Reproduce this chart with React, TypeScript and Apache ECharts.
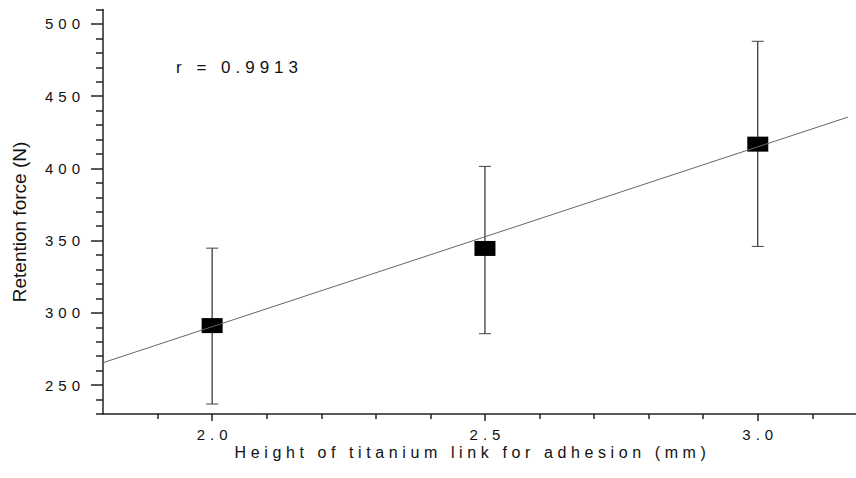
import React, { useEffect, useRef } from "react";
import * as echarts from "echarts";

const xValues = [2.0, 2.5, 3.0];
const meanForce = [291.2, 344.6, 416.8];
const errLow = [236.9, 285.6, 346.0];
const errHigh = [344.8, 401.4, 488.0];
const fitX = [1.8, 3.165];
const fitY = [265.5, 435.5];
const xMajorTicks = [2.0, 2.5, 3.0];
const xMinorTicks = [1.9, 2.1, 2.2, 2.3, 2.4, 2.6, 2.7, 2.8, 2.9, 3.1];
const yMajorTicks = [250, 300, 350, 400, 450, 500];
const yMinorTicks = [230, 240, 260, 270, 280, 290, 310, 320, 330, 340, 360, 370, 380, 390, 410, 420, 430, 440, 460, 470, 480, 490, 510];
const rText = "r = 0.9913";
const xTitle = "Height of titanium link for adhesion (mm)";
const yTitle = "Retention force (N)";

const SPACED = "Liberation Sans";
const TITLE = "Liberation Sans, Helvetica";
const PLAIN = "Arial, Liberation Sans";

export default function App() {
  const ref = useRef<HTMLDivElement>(null);
  useEffect(() => {
    document.body.style.margin = "0";
    const chart = echarts.init(ref.current!, null, { renderer: "svg" });
    const axisColor = "#222";
    chart.setOption({
      animation: false,
      backgroundColor: "#fff",
      grid: { left: 103, right: 0, top: 9.5, bottom: 64, containLabel: false },
      xAxis: [
        {
          type: "value", min: 1.8, max: 3.18, position: "bottom",
          axisLine: { show: true, onZero: false, lineStyle: { color: axisColor, width: 1.5 } },
          axisTick: { show: true, customValues: xMajorTicks, length: 7, lineStyle: { color: axisColor, width: 1.5 } },
          axisLabel: {
            show: true, customValues: xMajorTicks, formatter: (v: number) => v.toFixed(1),
            fontSize: 15, fontFamily: SPACED, color: "#111", margin: 13, padding: [0, 0, 0, 5],
          },
          splitLine: { show: false },
        },
        {
          type: "value", min: 1.8, max: 3.18, position: "bottom",
          axisLine: { show: false, onZero: false },
          axisTick: { show: true, customValues: xMinorTicks, length: 5, lineStyle: { color: axisColor, width: 1.5 } },
          axisLabel: { show: false },
          splitLine: { show: false },
        },
      ],
      yAxis: [
        {
          type: "value", min: 230, max: 510, position: "left",
          axisLine: { show: true, onZero: false, lineStyle: { color: axisColor, width: 1.5 } },
          axisTick: { show: true, customValues: yMajorTicks, length: 12, lineStyle: { color: axisColor, width: 1.5 } },
          axisLabel: {
            show: true, customValues: yMajorTicks, fontSize: 15, fontFamily: SPACED, color: "#111", margin: 18,
          },
          splitLine: { show: false },
        },
        {
          type: "value", min: 230, max: 510, position: "left",
          axisLine: { show: false, onZero: false },
          axisTick: { show: true, customValues: yMinorTicks, length: 7, lineStyle: { color: axisColor, width: 1.5 } },
          axisLabel: { show: false },
          splitLine: { show: false },
        },
      ],
      graphic: [
        {
          type: "text", left: 176, top: 59, z: 10,
          style: { text: rText, fontSize: 17, fontFamily: SPACED, fill: "#111" },
        },
        {
          type: "text", x: 472.5, y: 452, z: 10,
          style: { text: xTitle, fontSize: 16, fontFamily: TITLE, fill: "#111", textAlign: "center", textVerticalAlign: "middle" },
        },
        {
          type: "text", x: 19.5, y: 222, rotation: Math.PI / 2, z: 10,
          style: { text: yTitle, fontSize: 19, fontFamily: PLAIN, fill: "#111", textAlign: "center", textVerticalAlign: "middle" },
        },
      ],
      series: [
        {
          type: "scatter", xAxisIndex: 0, yAxisIndex: 0, z: 2,
          symbol: "rect", symbolSize: [21, 15],
          itemStyle: { color: "#000", opacity: 1 },
          data: xValues.map((x, i) => [x, meanForce[i]]),
        },
        {
          type: "custom", xAxisIndex: 0, yAxisIndex: 0, z: 3,
          data: xValues.map((x, i) => [x, errLow[i], errHigh[i]]),
          encode: { x: 0, y: [1, 2] },
          renderItem: (params: any, api: any) => {
            const x = api.value(0);
            const lo = api.coord([x, api.value(1)]);
            const hi = api.coord([x, api.value(2)]);
            return {
              type: "group",
              children: [
                { type: "line", shape: { x1: lo[0], y1: lo[1], x2: hi[0], y2: hi[1] }, style: { stroke: "#000", lineWidth: 1 } },
                { type: "line", shape: { x1: lo[0] - 6, y1: lo[1], x2: lo[0] + 6, y2: lo[1] }, style: { stroke: "#444", lineWidth: 1 } },
                { type: "line", shape: { x1: hi[0] - 6, y1: hi[1], x2: hi[0] + 6, y2: hi[1] }, style: { stroke: "#444", lineWidth: 1 } },
              ],
            };
          },
        },
        {
          type: "line", xAxisIndex: 0, yAxisIndex: 0, z: 4,
          symbol: "none", silent: true,
          lineStyle: { color: "#666", width: 1 },
          data: fitX.map((x, i) => [x, fitY[i]]),
        },
      ],
    });
    return () => chart.dispose();
  }, []);
  return (
    <>
      <style>{`#chart-root text { letter-spacing: 5px; }
#chart-root text[style*="Helvetica"], #chart-root text[font-family*="Helvetica"] { letter-spacing: 4.6px; }
#chart-root text[style*="Arial"], #chart-root text[font-family*="Arial"] { letter-spacing: 0px; }`}</style>
      <div id="chart-root" ref={ref} style={{ position: "fixed", left: 0, top: 0, width: 856, height: 478 }} />
    </>
  );
}
